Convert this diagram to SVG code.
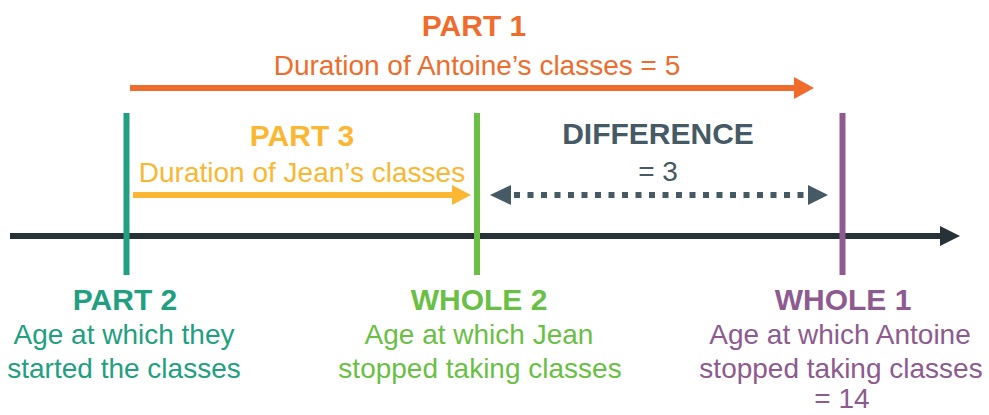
<svg xmlns="http://www.w3.org/2000/svg" width="989" height="415" viewBox="0 0 989 415">
<style>
text{font-family:"Liberation Sans",Arial,sans-serif;text-anchor:middle}
.b{font-weight:bold;font-size:30px}
.r{font-size:28px}
.orange{fill:#EF6C2D}
.yellow{fill:#FBB731}
.teal{fill:#229F80}
.green{fill:#6ABF45}
.purple{fill:#8D5B8F}
.slate{fill:#455A64}
.tick{stroke-width:6;fill:none}
.shaft{stroke-width:6;fill:none}
</style>
<rect width="989" height="415" fill="#ffffff"/>
<g id="connectors">
  <g id="timeline">
    <line class="shaft" x1="10" y1="236" x2="942" y2="236" stroke="#263238"/>
    <polygon points="940,226 960,236 940,246" fill="#263238"/>
  </g>
  <g id="part1-arrow">
    <line class="shaft" x1="130" y1="88" x2="796" y2="88" stroke="#EF6C2D"/>
    <polygon points="794,77 814,88 794,99" fill="#EF6C2D"/>
  </g>
  <g id="part3-arrow">
    <line class="shaft" x1="133" y1="195" x2="454" y2="195" stroke="#FBB731"/>
    <polygon points="452,185 471,195 452,205" fill="#FBB731"/>
  </g>
  <g id="difference-arrow">
    <line class="shaft" x1="514" y1="195" x2="808" y2="195" stroke="#455A64" stroke-dasharray="6 7.5"/>
    <polygon points="511,185 490,195 511,205" fill="#455A64"/>
    <polygon points="808,185 828,195 808,205" fill="#455A64"/>
  </g>
</g>
<g id="part1">
  <text class="b orange" x="474" y="36">PART 1</text>
  <text class="r orange" x="477" y="75">Duration of Antoine’s classes = 5</text>
</g>
<g id="part3">
  <text class="b yellow" x="302" y="146">PART 3</text>
  <text class="r yellow" x="302" y="182">Duration of Jean’s classes</text>
</g>
<g id="difference">
  <text class="b slate" x="658" y="144">DIFFERENCE</text>
  <text class="r slate" x="658" y="181">= 3</text>
</g>
<g id="part2">
  <line class="tick" x1="126.5" y1="113" x2="126.5" y2="275" stroke="#229F80"/>
  <text class="b teal" x="125" y="310">PART 2</text>
  <text class="r teal" x="124" y="344">Age at which they</text>
  <text class="r teal" x="124" y="378">started the classes</text>
</g>
<g id="whole2">
  <line class="tick" x1="477" y1="113" x2="477" y2="275" stroke="#6ABF45"/>
  <text class="b green" x="479" y="310">WHOLE 2</text>
  <text class="r green" x="479" y="344">Age at which Jean</text>
  <text class="r green" x="480" y="378">stopped taking classes</text>
</g>
<g id="whole1">
  <line class="tick" x1="842.5" y1="113" x2="842.5" y2="275" stroke="#8D5B8F"/>
  <text class="b purple" x="843" y="310">WHOLE 1</text>
  <text class="r purple" x="840" y="344">Age at which Antoine</text>
  <text class="r purple" x="841" y="378">stopped taking classes</text>
  <text class="r purple" x="842" y="408">= 14</text>
</g>
</svg>
